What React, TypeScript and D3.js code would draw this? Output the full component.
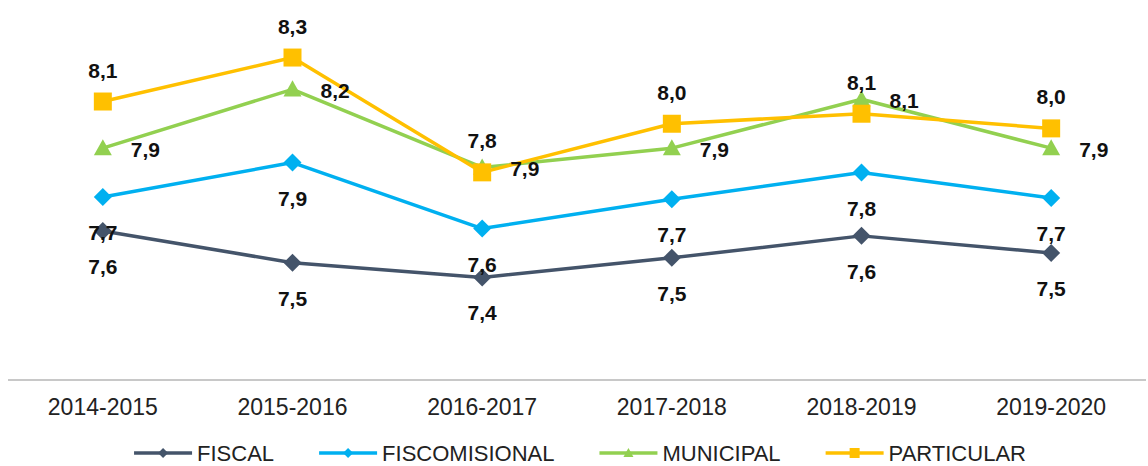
import React, { useEffect, useRef } from "react";
import * as d3 from "d3";

// school years on the x axis
const years = ["2014-2015", "2015-2016", "2016-2017", "2017-2018", "2018-2019", "2019-2020"];

// average grade per type of school
const fiscal = [7.61, 7.48, 7.42, 7.5, 7.59, 7.52];
const fiscomisional = [7.749, 7.89, 7.62, 7.74, 7.849, 7.745];
const municipal = [7.949, 8.19, 7.87, 7.949, 8.149, 7.949];
const particular = [8.14, 8.32, 7.85, 8.049, 8.09, 8.03];

const seriesNames = ["FISCAL", "FISCOMISIONAL", "MUNICIPAL", "PARTICULAR"];
const seriesValues = [fiscal, fiscomisional, municipal, particular];
const seriesColors = ["#44546A", "#00B0F0", "#92D050", "#FFC000"];
const seriesMarkers = ["diamond", "diamond", "triangle", "square"];
const labelPlaces = ["below", "below", "right", "above"];

const W = 1148;
const H = 466;
const FONT = "'Liberation Sans', Arial, sans-serif";

const markerPath = (kind: string, r: number) => {
  if (kind === "diamond") return `M0,${-r}L${r},0L0,${r}L${-r},0Z`;
  if (kind === "triangle") return `M0,${-r}L${r},${r * 0.8}L${-r},${r * 0.8}Z`;
  return `M${-r},${-r}H${r}V${r}H${-r}Z`;
};

const fmt = d3
  .formatLocale({ decimal: ",", thousands: ".", grouping: [3], currency: ["", ""] })
  .format(".1f");

const App = () => {
  const svgRef = useRef<SVGSVGElement>(null);

  useEffect(() => {
    const svg = d3.select(svgRef.current);
    svg.selectAll("*").remove();

    const x = d3.scaleBand().domain(years).range([8, 1146]);
    const y = d3.scaleLinear().domain([7, 8.4]).range([380, 38]);
    const cx = (d: string) => (x(d) as number) + x.bandwidth() / 2;

    // axis baseline
    svg
      .append("line")
      .attr("x1", 8)
      .attr("x2", 1146)
      .attr("y1", 380)
      .attr("y2", 380)
      .attr("stroke", "#c8c8c8")
      .attr("stroke-width", 2);

    // category labels
    svg
      .append("g")
      .selectAll("text")
      .data(years)
      .join("text")
      .attr("x", (d) => cx(d))
      .attr("y", 415)
      .attr("text-anchor", "middle")
      .attr("font-family", FONT)
      .attr("font-size", 23)
      .attr("fill", "#222")
      .text((d) => d);

    const line = d3
      .line<number>()
      .x((_, i) => cx(years[i]))
      .y((d) => y(d));

    seriesValues.forEach((vals, s) => {
      const g = svg.append("g");
      g.append("path")
        .attr("d", line(vals))
        .attr("fill", "none")
        .attr("stroke", seriesColors[s])
        .attr("stroke-width", 3.5)
        .attr("stroke-linejoin", "round");
      g.selectAll("path.mk")
        .data(vals)
        .join("path")
        .attr("class", "mk")
        .attr("d", markerPath(seriesMarkers[s], 9))
        .attr("transform", (d, i) => `translate(${cx(years[i])},${y(d)})`)
        .attr("fill", seriesColors[s]);
    });

    // value labels
    seriesValues.forEach((vals, s) => {
      const place = labelPlaces[s];
      svg
        .append("g")
        .selectAll("text")
        .data(vals)
        .join("text")
        .attr("x", (d, i) => cx(years[i]) + (place === "right" ? 28 : 0))
        .attr("y", (d) => y(d) + (place === "below" ? 43 : place === "above" ? -24 : 9))
        .attr("text-anchor", place === "right" ? "start" : "middle")
        .attr("font-family", FONT)
        .attr("font-weight", "bold")
        .attr("font-size", 21)
        .attr("fill", "#111")
        .text((d) => fmt(d));
    });

    // legend, laid out from measured text widths and centred
    const legend = svg.append("g");
    const gap = 45;
    let pos = 0;
    seriesNames.forEach((name, s) => {
      const item = legend.append("g").attr("transform", `translate(${pos},0)`);
      item
        .append("line")
        .attr("x1", 0)
        .attr("x2", 58)
        .attr("stroke", seriesColors[s])
        .attr("stroke-width", 3.5);
      item
        .append("path")
        .attr("d", markerPath(seriesMarkers[s], 5))
        .attr("transform", "translate(29,0)")
        .attr("fill", seriesColors[s]);
      const t = item
        .append("text")
        .attr("x", 63)
        .attr("y", 8)
        .attr("font-family", FONT)
        .attr("font-size", 22)
        .attr("fill", "#222")
        .text(name);
      const w = (t.node() as SVGTextElement).getComputedTextLength();
      pos += 63 + w + gap;
    });
    const total = pos - gap;
    legend.attr("transform", `translate(${580 - total / 2},453)`);
  }, []);

  return (
    <svg
      ref={svgRef}
      width={W}
      height={H}
      style={{ position: "absolute", left: 0, top: 0, background: "#fff" }}
    />
  );
};

export default App;
